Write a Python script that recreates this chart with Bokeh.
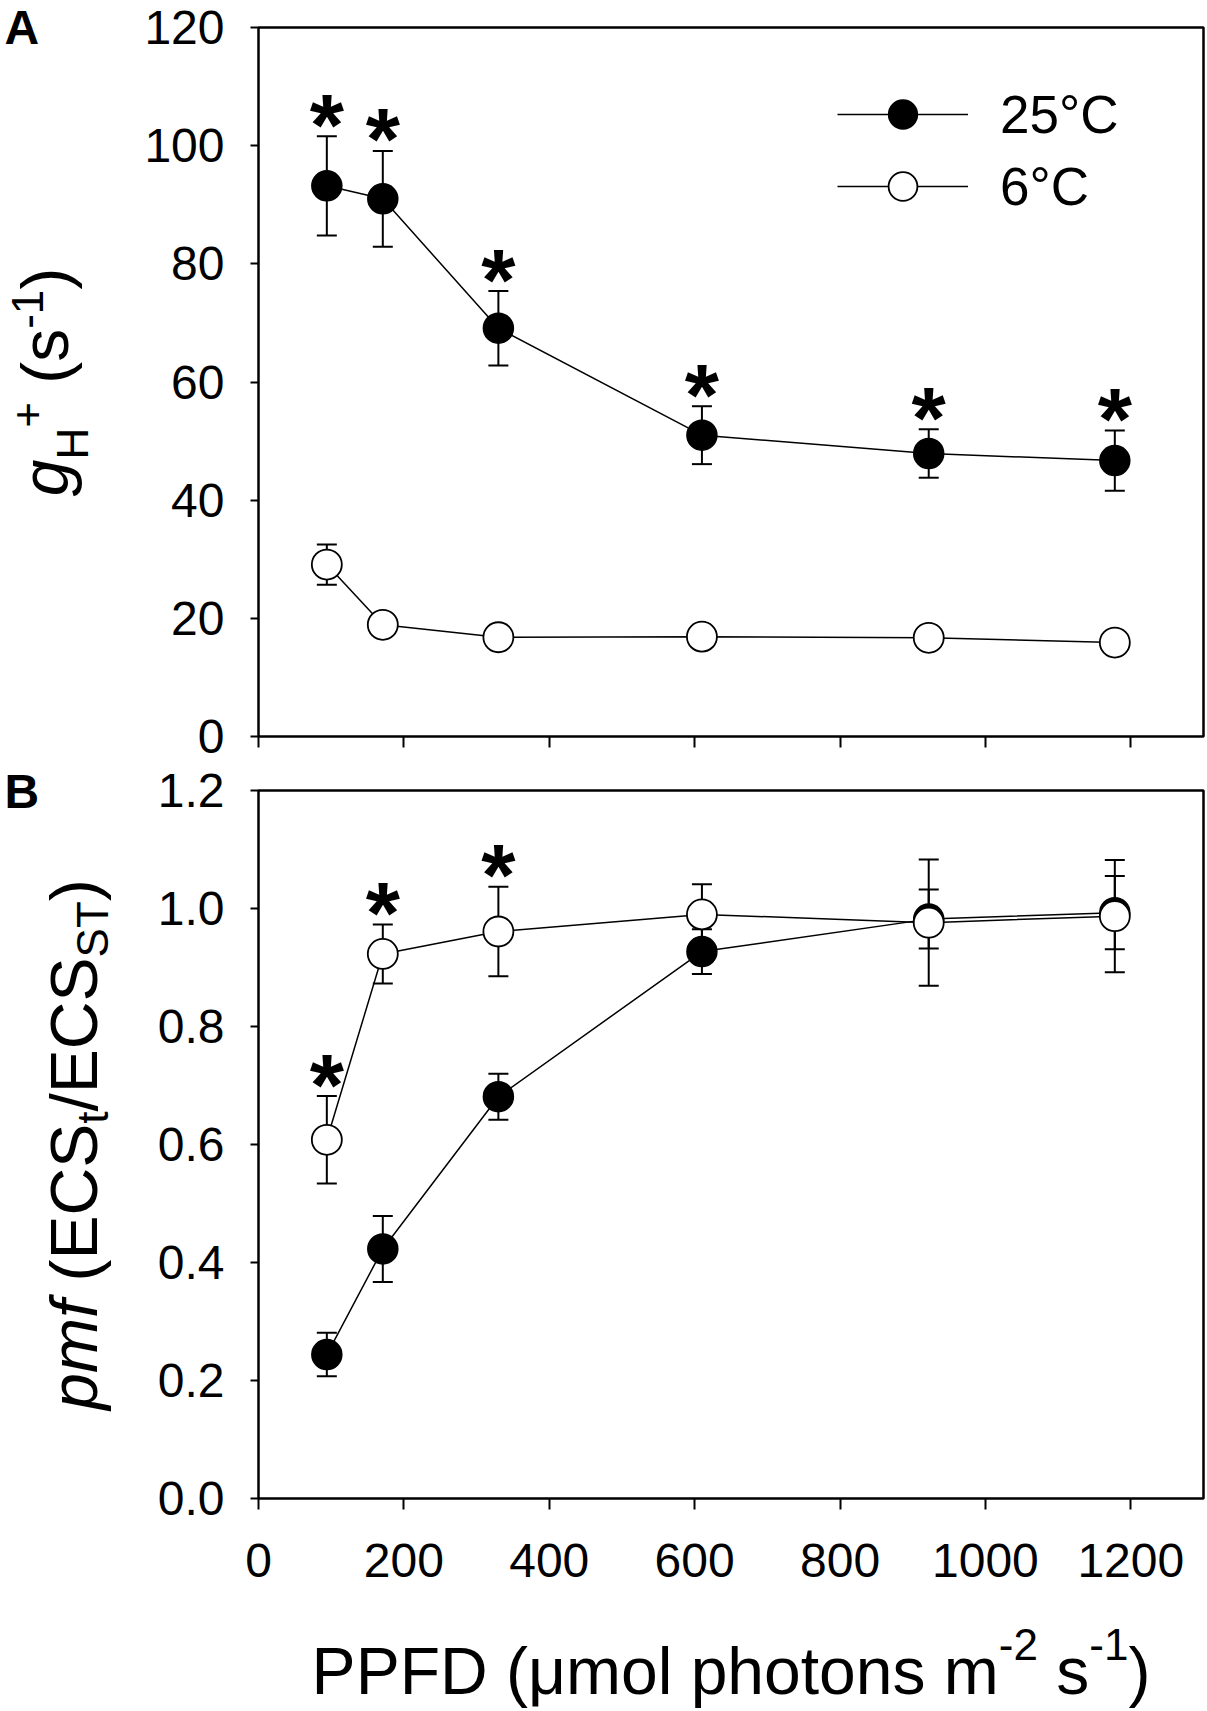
import math
from bokeh.plotting import figure
from bokeh.models import (ColumnDataSource, Whisker, TeeHead, Legend, LegendItem,
                          FixedTicker, NumeralTickFormatter)
from bokeh.layouts import column, row
from bokeh.core.properties import value
from bokeh.embed import file_html
from bokeh.resources import INLINE

# ---------------- data ----------------
ppfd = [94, 171, 330, 610, 922, 1178]

gh_25 = [93.2, 91.0, 69.1, 51.0, 47.9, 46.7]
gh_25_se = [8.4, 8.1, 6.3, 4.9, 4.1, 5.1]
gh_6 = [29.1, 18.9, 16.8, 16.9, 16.7, 15.9]
gh_6_se = [3.4, 1.2, 1.0, 1.0, 1.0, 1.0]

pmf_25 = [0.244, 0.423, 0.681, 0.927, 0.982, 0.993]
pmf_25_se = [0.037, 0.056, 0.039, 0.038, 0.050, 0.062]
pmf_6 = [0.608, 0.923, 0.961, 0.990, 0.976, 0.987]
pmf_6_se = [0.074, 0.050, 0.076, 0.051, 0.107, 0.095]

sig_gh = [True, True, True, True, True, True]        # * above 25 °C (panel A)
sig_pmf = [True, True, True, False, False, False]    # * above 6 °C (panel B)

x_ticks = [0, 200, 400, 600, 800, 1000, 1200]
gh_ticks = [0, 20, 40, 60, 80, 100, 120]
pmf_ticks = [0.0, 0.2, 0.4, 0.6, 0.8, 1.0, 1.2]

series_labels = ["25\u00b0C", "6\u00b0C"]

FONT = "Liberation Sans"
NB = "\u00a0"
K = 0.35  # distance (em) from the "middle" of a text box down to its alphabetic baseline

# Arial / Liberation Sans advance widths (1/1000 em)
W = {' ': 278, NB: 278, '(': 333, ')': 333, '/': 278, '-': 333, '+': 584,
     '0': 556, '1': 556, '2': 556, '3': 556, '4': 556, '5': 556, '6': 556, '7': 556, '8': 556, '9': 556,
     'A': 722, 'B': 722, 'C': 722, 'D': 722, 'E': 667, 'F': 611, 'H': 722, 'P': 667, 'S': 667, 'T': 611,
     'a': 556, 'c': 500, 'e': 556, 'f': 278, 'g': 556, 'h': 556, 'l': 222, 'm': 833, 'n': 556,
     'o': 556, 'p': 556, 's': 500, 't': 278, '\u03bc': 576}


def tw(s, size):
    return sum(W.get(c, 556) for c in s) / 1000.0 * size


def text_fig(w, h):
    p = figure(frame_width=w, frame_height=h, x_range=(0, w), y_range=(0, h), min_border=0,
               title=None, toolbar_location=None, output_backend="svg",
               x_axis_location=None, y_axis_location=None)
    p.grid.visible = False
    p.outline_line_color = None
    p.background_fill_color = "white"
    p.border_fill_color = "white"
    return p


def put_text(p, x, y, t, size, style, angle=0.0):
    p.text(x=[x], y=[y], text=[t], angle=angle, text_align="center", text_baseline="middle",
           text_font=value(FONT), text_font_size=f"{size}px", text_font_style=style,
           text_color="black")


def rich_text(p, pieces, center, base, vertical):
    """pieces: (text, size, style, shift_up); base = alphabetic baseline (pixels of p)."""
    total = sum(tw(t, s) for t, s, _, _ in pieces)
    pos = center - total / 2.0
    for t, s, st, sh in pieces:
        w = tw(t, s)
        if vertical:
            put_text(p, base - sh - K * s, pos + w / 2.0, t, s, st, angle=math.pi / 2)
        else:
            put_text(p, pos + w / 2.0, base + sh + K * s, t, s, st)
        pos += w


FW, FHA, FHB = 945, 709, 708
LABW = 128


def make_fig(fh, top, bottom, yr):
    p = figure(frame_width=FW, frame_height=fh,
               x_range=(0, 1300), y_range=yr, output_backend="svg", toolbar_location=None,
               title=None,
               min_border_left=130, min_border_right=4, min_border_top=top, min_border_bottom=bottom)
    p.grid.visible = False
    p.outline_line_color = "black"
    p.outline_line_width = 2.5
    p.axis.axis_line_color = None
    p.axis.minor_tick_line_color = None
    p.axis.major_tick_line_color = "black"
    p.axis.major_tick_line_width = 2
    p.axis.major_tick_in = 0
    p.xaxis.major_tick_out = 11
    p.yaxis.major_tick_out = 8
    p.axis.major_label_text_font = FONT
    p.axis.major_label_text_font_size = "48px"
    p.axis.major_label_text_color = "black"
    p.xaxis.major_label_standoff = 34
    p.yaxis.major_label_standoff = 26
    p.xaxis.ticker = FixedTicker(ticks=x_ticks)
    p.background_fill_color = "white"
    p.border_fill_color = "white"
    return p


def draw_series(p, y, se):
    ln = p.line(ppfd, y, line_color="black", line_width=1.5)
    src = ColumnDataSource(dict(x=ppfd, upper=[a + b for a, b in zip(y, se)],
                                lower=[a - b for a, b in zip(y, se)]))
    wk = Whisker(source=src, base="x", upper="upper", lower="lower", line_color="black",
                 line_width=2, level="underlay",
                 upper_head=TeeHead(size=20, line_width=2, line_color="black"),
                 lower_head=TeeHead(size=20, line_width=2, line_color="black"))
    p.add_layout(wk)
    return ln


def draw_stars(p, y, se, sig):
    xs = [x for x, s in zip(ppfd, sig) if s]
    ys = [a + b for a, b, s in zip(y, se, sig) if s]
    p.text(x=xs, y=ys, text=["*"] * len(xs), text_font=value(FONT), text_font_style="bold",
           text_font_size="88px", text_align="center", text_baseline="alphabetic",
           y_offset=-12, text_color="black")


# ---------------- Panel A ----------------
TA, BA = 27, 27
HA = TA + FHA + BA
pA = make_fig(FHA, TA, BA, (0, 120))
pA.yaxis.ticker = FixedTicker(ticks=gh_ticks)
pA.xaxis.major_label_text_font_size = "0px"
pA.xaxis.major_label_text_color = None
pA.xaxis.major_label_standoff = 0

lA25 = draw_series(pA, gh_25, gh_25_se)
lA6 = draw_series(pA, gh_6, gh_6_se)
sA25 = pA.scatter(ppfd, gh_25, size=30, marker="circle", fill_color="black", line_color="black", line_width=1.5)
sA6 = pA.scatter(ppfd, gh_6, size=30, marker="circle", fill_color="white", line_color="black", line_width=1.8)
draw_stars(pA, gh_25, gh_25_se, sig_gh)

legend = Legend(items=[LegendItem(label=series_labels[0], renderers=[lA25, sA25]),
                       LegendItem(label=series_labels[1], renderers=[lA6, sA6])],
                location=(579, 514), orientation="vertical", glyph_width=131, glyph_height=72,
                label_standoff=32, label_text_font=FONT, label_text_font_size="53px",
                label_text_color="black", padding=0, margin=0, spacing=0,
                border_line_color=None, background_fill_alpha=0)
pA.add_layout(legend)

# ---------------- Panel B ----------------
TB, BB = 27, 110
HB = TB + FHB + BB
pB = make_fig(FHB, TB, BB, (0, 1.2))
pB.yaxis.ticker = FixedTicker(ticks=pmf_ticks)
pB.yaxis.formatter = NumeralTickFormatter(format="0.0")

draw_series(pB, pmf_25, pmf_25_se)
draw_series(pB, pmf_6, pmf_6_se)
pB.scatter(ppfd, pmf_25, size=30, marker="circle", fill_color="black", line_color="black", line_width=1.5)
pB.scatter(ppfd, pmf_6, size=30, marker="circle", fill_color="white", line_color="black", line_width=1.8)
draw_stars(pB, pmf_6, pmf_6_se, sig_pmf)

# ---------------- left-hand titles (one tall text panel) ----------------
HL = HA + HB
lab = text_fig(LABW, HL)
put_text(lab, 4 + tw("A", 48) / 2.0, HL - 44 + K * 48, "A", 48, "bold")
rich_text(lab, [("g", 66, "italic", 0), ("H", 44, "normal", -19), ("+", 44, "normal", 26),
                (NB + "(s", 66, "normal", 0), ("-1", 44, "normal", 26), (")", 66, "normal", 0)],
          center=HL - (TA + FHA / 2.0), base=68, vertical=True)
put_text(lab, 4 + tw("B", 48) / 2.0, HB - 45 + K * 48, "B", 48, "bold")
rich_text(lab, [("pmf", 66, "italic", 0), (NB + "(ECS", 66, "normal", 0), ("t", 44, "normal", -10),
                ("/ECS", 66, "normal", 0), ("ST", 44, "normal", -10), (")", 66, "normal", 0)],
          center=HB - (TB + FHB / 2.0), base=97, vertical=True)

# ---------------- x-axis title ----------------
HX = 1711 - HL
xlab = text_fig(LABW + 130 + FW + 4, HX)
rich_text(xlab, [("PPFD (\u03bcmol photons m", 66, "normal", 0), ("-2", 44, "normal", 35),
                 (NB + "s", 66, "normal", 0), ("-1", 44, "normal", 35), (")", 66, "normal", 0)],
          center=LABW + 130 + FW / 2.0, base=17, vertical=False)

layout = column(row(lab, column(pA, pB)), xlab)
open("out.html", "w").write(file_html(layout, INLINE))
